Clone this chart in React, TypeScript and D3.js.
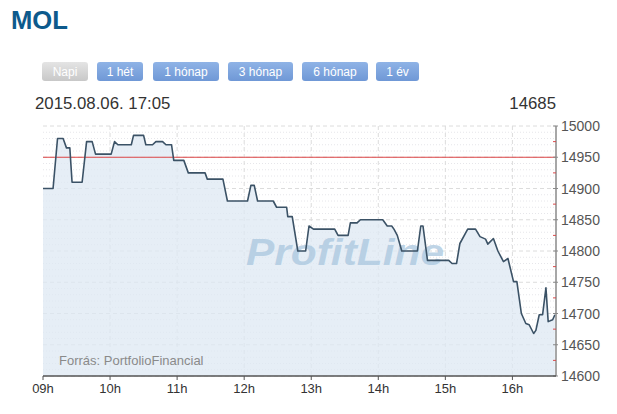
import React from "react";
import * as d3 from "d3";

const times = [
  "09:00","09:09","09:13","09:18","09:21","09:24","09:26","09:35","09:39","09:44",
  "09:47","10:01","10:04","10:07","10:19","10:21","10:30","10:32","10:38","10:41",
  "10:47","10:50","10:55","10:57","11:06","11:10","11:25","11:27","11:41","11:45",
  "12:03","12:06","12:09","12:12","12:26","12:29","12:38","12:39","12:43","12:48",
  "12:55","12:58","13:02","13:21","13:24","13:33","13:35","13:41","13:44","14:04",
  "14:08","14:12","14:14","14:17","14:21","14:35","14:38","14:40","14:44","15:03",
  "15:06","15:10","15:13","15:20","15:27","15:31","15:36","15:38","15:43","15:47",
  "15:52","15:56","16:01","16:04","16:08","16:12","16:15","16:19","16:21","16:24",
  "16:27","16:30","16:32","16:36","16:38"
];
const prices = [
  14900,14900,14980,14980,14965,14965,14910,14910,14975,14975,
  14955,14955,14975,14970,14970,14985,14985,14970,14970,14975,
  14975,14970,14970,14945,14945,14925,14925,14915,14915,14880,
  14880,14905,14905,14880,14880,14870,14870,14855,14855,14800,
  14800,14840,14835,14835,14825,14825,14845,14845,14850,14850,
  14840,14840,14835,14825,14800,14800,14840,14840,14785,14785,
  14780,14780,14812,14835,14835,14823,14819,14811,14820,14800,
  14783,14788,14751,14751,14700,14684,14682,14668,14673,14698,
  14698,14741,14687,14690,14698
];
const hourLabels = ["09h","10h","11h","12h","13h","14h","15h","16h"];
const yTickValues = [14600,14650,14700,14750,14800,14850,14900,14950,15000];
const buttonLabels = ["Napi","1 hét","1 hónap","3 hónap","6 hónap","1 év"];
const prevClose = 14950;
const lastPrice = 14685;
const title = "MOL";
const dateText = "2015.08.06. 17:05";
const sourceText = "Forrás: PortfolioFinancial";
const sessionStart = "09:00";
const sessionEnd = "16:39";

const toMin = (t: string) => {
  const [h, m] = t.split(":").map(Number);
  return h * 60 + m;
};

const FONT = "'Liberation Sans', Arial, sans-serif";

export default function App() {
  const left = 43, right = 556, top = 126, bottom = 376;
  const x = d3.scaleLinear().domain([toMin(sessionStart), toMin(sessionEnd)]).range([left, right]);
  const y = d3.scaleLinear().domain([14600, 15000]).range([bottom, top]);

  const data = times.map((t, i) => ({ t: toMin(t), v: prices[i] }));
  const line = d3.line<{ t: number; v: number }>().x(d => x(d.t)).y(d => y(d.v));
  const area = d3.area<{ t: number; v: number }>().x(d => x(d.t)).y0(bottom).y1(d => y(d.v));

  const hourMins = hourLabels.map(h => parseInt(h) * 60);
  const minorY = d3.range(14610, 15000, 10).filter(v => v % 50 !== 0);
  const midTicks = d3.range(14625, 15000, 50);

  const btnX = [42, 97, 153, 228, 302, 376];
  const btnW = [46, 46, 66, 65, 66, 43];

  return (
    <svg width={617} height={414} style={{ position: "absolute", left: 0, top: 0, background: "#fff" }}>
      <defs>
        <linearGradient id="btnBlue" x1="0" y1="0" x2="0" y2="1">
          <stop offset="0" stopColor="#8fb3e6" />
          <stop offset="1" stopColor="#6f98d6" />
        </linearGradient>
        <linearGradient id="btnGrey" x1="0" y1="0" x2="0" y2="1">
          <stop offset="0" stopColor="#e4e4e4" />
          <stop offset="1" stopColor="#c8c8c8" />
        </linearGradient>
      </defs>
      <text x={11} y={29} fontFamily={FONT} fontWeight="bold" fontSize={26} textLength={57} lengthAdjust="spacingAndGlyphs" fill="#0d5a8c">{title}</text>
      {buttonLabels.map((b, i) => (
        <g key={b}>
          <rect x={btnX[i]} y={62} width={btnW[i]} height={19} rx={3} fill={i === 0 ? "url(#btnGrey)" : "url(#btnBlue)"} />
          <text x={btnX[i] + btnW[i] / 2} y={76} textAnchor="middle" fontFamily={FONT} fontSize={12} fill="#fff">{b}</text>
        </g>
      ))}
      <text x={35} y={109} fontFamily={FONT} fontSize={16.8} fill="#333">{dateText}</text>
      <text x={556} y={109} textAnchor="end" fontFamily={FONT} fontSize={16.8} fill="#333">{lastPrice}</text>

      {/* grid */}
      {minorY.map(v => (
        <line key={"m" + v} x1={left} x2={right} y1={y(v)} y2={y(v)} stroke="#e6e6ea" strokeWidth={1} strokeDasharray="1,2" />
      ))}
      {yTickValues.map(v => (
        <line key={"g" + v} x1={left} x2={right} y1={y(v)} y2={y(v)} stroke="#dcdcdc" strokeWidth={1} strokeDasharray="4,3" />
      ))}
      {hourMins.slice(1).map(m => (
        <line key={"v" + m} x1={x(m)} x2={x(m)} y1={top} y2={bottom} stroke="#dcdcdc" strokeWidth={1} strokeDasharray="4,3" />
      ))}

      <path d={area(data) || ""} fill="#dde8f3" fillOpacity={0.75} />
      <text x={246} y={265} fontFamily={FONT} fontWeight="bold" fontStyle="italic" fontSize={36} textLength={198} lengthAdjust="spacingAndGlyphs" fill="#a9c6de" fillOpacity={0.75}>ProfitLine</text>
      <line x1={left} x2={right} y1={y(prevClose)} y2={y(prevClose)} stroke="#dc4446" strokeWidth={1.2} />
      <path d={line(data) || ""} fill="none" stroke="#3b5266" strokeWidth={1.6} strokeLinejoin="round" />

      <text x={59} y={365} fontFamily={FONT} fontSize={13} fill="#8a8a8a">{sourceText}</text>

      {/* right axis */}
      <line x1={right} x2={right} y1={top} y2={bottom} stroke="#8a8a8a" strokeWidth={1.5} />
      {midTicks.map(v => (
        <line key={"r" + v} x1={right - 3} x2={right} y1={y(v)} y2={y(v)} stroke="#d9494a" strokeWidth={1} />
      ))}
      {yTickValues.map(v => (
        <g key={"t" + v}>
          <line x1={right - 3} x2={right + 2} y1={y(v)} y2={y(v)} stroke="#8a8a8a" strokeWidth={1} />
          <text x={561} y={y(v) + 5} fontFamily={FONT} fontSize={14} fill="#555">{v}</text>
        </g>
      ))}

      {/* bottom axis */}
      <line x1={left} x2={right} y1={bottom} y2={bottom} stroke="#555" strokeWidth={1.5} />
      {hourMins.map((m, i) => (
        <g key={"h" + m}>
          <line x1={x(m)} x2={x(m)} y1={bottom} y2={bottom + 4} stroke="#555" strokeWidth={1} />
          <text x={x(m)} y={393} textAnchor="middle" fontFamily={FONT} fontSize={13} fill="#333">{hourLabels[i]}</text>
        </g>
      ))}
    </svg>
  );
}
